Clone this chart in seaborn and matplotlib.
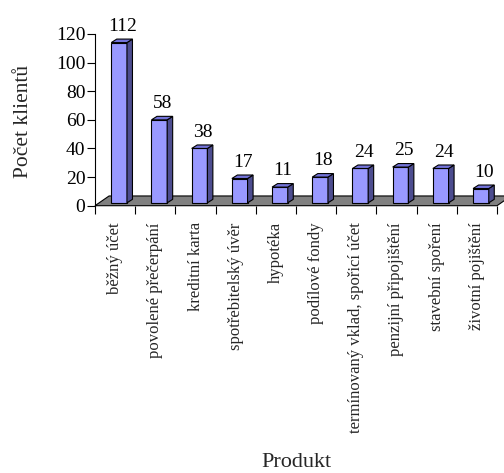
import numpy as np
import pandas as pd
import matplotlib
matplotlib.use("Agg")
import matplotlib.pyplot as plt
from matplotlib.patches import Polygon
import seaborn as sns

# -----------------------------------
# DATA
# -----------------------------------

products = [
    "běžný účet",
    "povolené přečerpání",
    "kreditní karta",
    "spotřebitelský úvěr",
    "hypotéka",
    "podílové fondy",
    "termínovaný vklad, spořicí účet",
    "penzijní připojištění",
    "stavební spoření",
    "životní pojištění",
]
counts = [112, 58, 38, 17, 11, 18, 24, 25, 24, 10]
y_ticks = [0, 20, 40, 60, 80, 100, 120]

df = pd.DataFrame({"produkt": products, "pocet": counts})

# -----------------------------------
# STYLE
# -----------------------------------

sns.set_theme(style="white")
plt.rcParams["font.family"] = ["Liberation Serif", "DejaVu Serif"]

front = "#9999FF"
side = "#4D4D8F"
top = "#7373D9"

# 3d look (data units)
shift_x, base_y = 0.1, 2.0
bar_dx, bar_dy = 0.137, 2.45
floor_dx, floor_dy = 0.35, 6.8

fig = plt.figure(figsize=(5.04, 4.73), dpi=100)
ax = fig.add_axes([95 / 504, (473 - 205.7) / 473, 402 / 504, (205.7 - 34) / 473])

# floor
floor = Polygon([(-0.5, 0), (9.5, 0), (9.5 + floor_dx, floor_dy), (-0.5 + floor_dx, floor_dy)],
                closed=True, facecolor="#808080", edgecolor="black", linewidth=0.8,
                zorder=1, clip_on=False)
ax.add_patch(floor)

# -----------------------------------
# BARS
# -----------------------------------

sns.barplot(data=df, x="produkt", y="pocet", color=front, saturation=1,
            width=0.39, edgecolor="black", linewidth=0.8, ax=ax, zorder=3)

for p in list(ax.patches):
    if p is floor:
        continue
    p.set_x(p.get_x() + shift_x)
    p.set_y(base_y)
    x0 = p.get_x()
    x1 = x0 + p.get_width()
    y1 = base_y + p.get_height()
    ax.add_patch(Polygon([(x1, base_y), (x1 + bar_dx, base_y + bar_dy),
                          (x1 + bar_dx, y1 + bar_dy), (x1, y1)],
                         closed=True, facecolor=side, edgecolor="black",
                         linewidth=0.8, zorder=3))
    ax.add_patch(Polygon([(x0, y1), (x1, y1), (x1 + bar_dx, y1 + bar_dy),
                          (x0 + bar_dx, y1 + bar_dy)],
                         closed=True, facecolor=top, edgecolor="black",
                         linewidth=0.8, zorder=3))

for i, v in enumerate(counts):
    ax.annotate(str(v), (i + 0.18, v + base_y + bar_dy), xytext=(0, 3),
                textcoords="offset points", ha="center", va="bottom",
                fontsize=14, color="black")

# -----------------------------------
# AXES
# -----------------------------------

ax.set_xlim(-0.5, 9.5)
ax.set_ylim(0, 120)
ax.set_yticks(y_ticks)
ax.tick_params(axis="y", which="major", direction="out", length=5.5, width=0.8,
               pad=1.5, labelsize=14, left=True, colors="black")

ax.set_xticks(range(len(products)))
ax.set_xticklabels(products, rotation=90, fontsize=12)
ax.set_xticks(np.arange(-0.5, len(products)), minor=True)
ax.tick_params(axis="x", which="major", length=0, pad=12)
ax.tick_params(axis="x", which="minor", direction="out", length=5.5, width=0.8,
               bottom=True, color="black")

for s in ["top", "right", "bottom"]:
    ax.spines[s].set_visible(False)
ax.spines["left"].set_color("black")
ax.spines["left"].set_linewidth(0.8)

ax.set_xlabel("")
ax.set_ylabel("Počet klientů", fontsize=15.5)
ax.yaxis.set_label_coords(-0.155, 0.49)
fig.text(296.7 / 504, 1 - 462 / 473, "Produkt", ha="center", va="center", fontsize=16)

fig.savefig("out.png", dpi=100)
